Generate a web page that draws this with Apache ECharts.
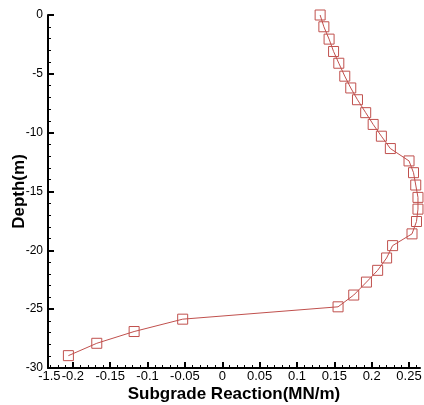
<!DOCTYPE html>
<html>
<head>
<meta charset="utf-8">
<script src="https://cdn.jsdelivr.net/npm/echarts@6/dist/echarts.min.js"></script>
<style>
html,body{margin:0;padding:0;background:#fff;}
#chart{width:424px;height:405px;}
</style>
</head>
<body>
<div id="chart"></div>
<script>
// Data
var depth = [0, -1.0, -2.05, -3.1, -4.1, -5.2, -6.2, -7.2, -8.3, -9.3, -10.3, -11.35, -12.4, -13.4, -14.45, -15.5, -16.5, -17.55, -18.6, -19.6, -20.65, -21.7, -22.7, -23.8, -24.8, -25.85, -26.9, -27.9, -28.95];
var reaction = [0.131, 0.136, 0.143, 0.149, 0.156, 0.164, 0.172, 0.181, 0.192, 0.202, 0.213, 0.225, 0.250, 0.256, 0.259, 0.262, 0.262, 0.260, 0.254, 0.228, 0.220, 0.208, 0.193, 0.176, 0.155, -0.053, -0.118, -0.168, -0.206];

// Tick values and labels
var xTickValues = [-0.2, -0.15, -0.1, -0.05, 0, 0.05, 0.1, 0.15, 0.2, 0.25];
var xTickLabels = ['-0.2', '-0.15', '-0.1', '-0.05', '0', '0.05', '0.1', '0.15', '0.2', '0.25'];
var xEndLabelValue = [-0.2315];
var xEndLabelText = ['-1.5'];
var xMin = -0.2333, xMax = 0.2647;

var xMinorTicks = [];
for (var k = -23; k <= 26; k++) { xMinorTicks.push(k / 100); }

var points = depth.map(function (d, i) { return [reaction[i], d]; });

function lookup(vals, texts) {
  return function (v) {
    for (var i = 0; i < vals.length; i++) {
      if (Math.abs(vals[i] - v) < 1e-6) return texts[i];
    }
    return '';
  };
}

var font = 'Arial, "Liberation Sans", sans-serif';
var chart = echarts.init(document.getElementById('chart'), null, {renderer: 'canvas'});
chart.setOption({
  animation: false,
  backgroundColor: '#fff',
  grid: {left: 48, right: 4, top: 15, bottom: 37, containLabel: false, outerBoundsMode: 'none'},
  xAxis: [{
    type: 'value', position: 'bottom', min: xMin, max: xMax,
    name: 'Subgrade Reaction(MN/m)', nameLocation: 'middle', nameGap: 18, nameMoveOverlap: false,
    nameTextStyle: {fontFamily: font, fontWeight: 'bold', fontSize: 17, color: '#000'},
    axisLine: {show: true, onZero: false, lineStyle: {color: '#000', width: 2}},
    axisTick: {show: true, inside: true, length: 6, lineStyle: {color: '#000', width: 2}, customValues: xTickValues},
    axisLabel: {
      show: true, margin: 2, fontFamily: font, fontSize: 13, color: '#000',
      showMinLabel: true, showMaxLabel: true, hideOverlap: false,
      customValues: xTickValues,
      formatter: lookup(xTickValues, xTickLabels)
    },
    splitLine: {show: false}
  }, {
    type: 'value', position: 'bottom', min: xMin, max: xMax,
    axisLine: {show: false, onZero: false},
    axisTick: {show: true, inside: true, length: 3, lineStyle: {color: '#000', width: 1}, customValues: xMinorTicks},
    axisLabel: {
      show: true, margin: 2, fontFamily: font, fontSize: 13, color: '#000',
      showMinLabel: true, hideOverlap: false,
      customValues: xEndLabelValue,
      formatter: lookup(xEndLabelValue, xEndLabelText)
    },
    splitLine: {show: false}
  }],
  yAxis: {
    type: 'value', min: -30, max: 0, interval: 5,
    name: 'Depth(m)', nameLocation: 'middle', nameGap: 20, nameRotate: 90, nameMoveOverlap: false,
    nameTextStyle: {fontFamily: font, fontWeight: 'bold', fontSize: 17, color: '#000'},
    axisLine: {show: true, onZero: false, lineStyle: {color: '#000', width: 2}},
    axisTick: {show: true, inside: true, length: 6, lineStyle: {color: '#000', width: 2}},
    minorTick: {show: true, splitNumber: 5, length: 3, lineStyle: {color: '#000', width: 1}},
    axisLabel: {margin: 5, fontFamily: font, fontSize: 12, color: '#000'},
    splitLine: {show: false}
  },
  series: [{
    type: 'line',
    xAxisIndex: 0,
    data: points,
    symbol: 'rect',
    symbolSize: 10,
    showAllSymbol: true,
    lineStyle: {color: '#c0504d', width: 1},
    itemStyle: {color: 'rgba(255,255,255,0)', borderColor: '#c0504d', borderWidth: 1},
    emphasis: {disabled: true}
  }]
});
</script>
</body>
</html>
